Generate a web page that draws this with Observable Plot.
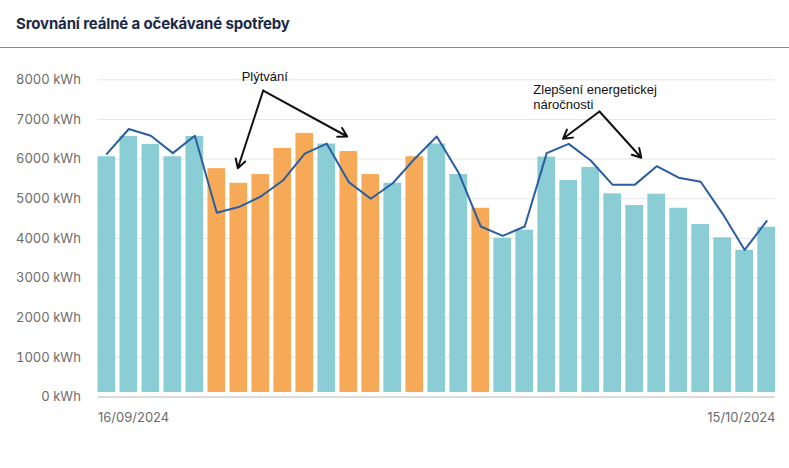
<!DOCTYPE html>
<html>
<head>
<meta charset="utf-8">
<script src="https://cdn.jsdelivr.net/npm/d3@7"></script>
<script src="https://cdn.jsdelivr.net/npm/@observablehq/plot@0.6"></script>
<style>
  html, body { margin: 0; padding: 0; background: #fff; }
  #head { height: 47px; border-bottom: 1px solid #8a8a8a; box-sizing: content-box; }
  #title { font-family: Inter, sans-serif; font-weight: 700; font-size: 15px; line-height: 18px;
           color: #1c2a48; padding: 15px 0 0 16px; letter-spacing: -0.15px; }
  #chart svg { display: block; }
</style>
</head>
<body>
<div id="head"><div id="title">Srovnání reálné a očekávané spotřeby</div></div>
<div id="chart"></div>
<script>
// Day index 1..31
const days = [1,2,3,4,5,6,7,8,9,10,11,12,13,14,15,16,17,18,19,20,21,22,23,24,25,26,27,28,29,30,31];
// Real consumption (kWh) – bars
const actual = [6060,6570,6370,6060,6570,5760,5390,5610,6270,6650,6380,6190,5610,5390,6060,6380,5610,4760,4005,4207,6050,5460,5790,5125,4830,5115,4760,4350,4015,3700,4280];
// Expected consumption (kWh) – line
const expected = [6130,6760,6590,6150,6590,4645,4790,5057,5460,6140,6390,5420,5000,5390,6010,6570,5650,4300,4065,4300,6150,6385,5965,5350,5350,5820,5530,5430,4620,3710,4435];
// Bar status: w = waste (orange), n = normal (teal)
const status = ["n","n","n","n","n","w","w","w","w","w","n","w","w","n","w","n","n","w","n","n","n","n","n","n","n","n","n","n","n","n","n"];
const yTicks = [0,1000,2000,3000,4000,5000,6000,7000,8000];
const startLabel = {x: 0.5, label: "16/09/2024"};
const endLabel = {x: 31.5, label: "15/10/2024"};
// Annotation arrows (from apex to tip), in data coordinates
const arrows = [
  {x1: 8.11, y1: 7730, x2: 6.955, y2: 5770},
  {x1: 8.11, y1: 7730, x2: 11.93, y2: 6570},
  {x1: 23.4, y1: 7200, x2: 21.74, y2: 6512},
  {x1: 23.4, y1: 7200, x2: 25.3, y2: 6033}
];
const noteWaste = {x: 8.18, y: 8083, text: "Plýtvání"};
const noteImprove = {x: 20.39, y: 7575, text: "Zlepšení energetickej\nnáročnosti"};

const data = days.map((d, i) => ({day: d, actual: actual[i], expected: expected[i], status: status[i]}));
const noteFont = "'Liberation Sans', Arial, sans-serif";

const chart = Plot.plot({
  width: 789,
  height: 420,
  marginLeft: 95.35,
  marginRight: 11.85,
  marginTop: 31.3,
  marginBottom: 71.5,
  style: {fontFamily: "Inter, sans-serif", fontSize: "13px", color: "#6b6b6b", background: "#fff"},
  x: {domain: [0.5, 31.5], axis: null},
  y: {domain: [0, 8000], axis: null},
  color: {domain: ["n", "w"], range: ["#8acdd5", "#f6aa57"]},
  marks: [
    Plot.ruleY(yTicks.filter(t => t > 0), {stroke: "#e6e6e6", strokeWidth: 1, insetLeft: 2.15, insetRight: 2.15}),
    Plot.rectY(data, {x1: d => d.day - 0.5, x2: d => d.day + 0.5, y1: 0, y2: "actual", fill: "status",
      insetLeft: 2.15, insetRight: 2.15, insetBottom: 4.5}),
    Plot.ruleY([0], {stroke: "#cfcfcf", strokeWidth: 1.5, insetLeft: 2.15, insetRight: 2.15}),
    Plot.line(data, {x: "day", y: "expected", stroke: "#2a5ea0", strokeWidth: 2}),
    Plot.arrow(arrows, {x1: "x1", y1: "y1", x2: "x2", y2: "y2", stroke: "#111", strokeWidth: 2, headLength: 7.5}),
    Plot.text([noteWaste], {x: "x", y: "y", text: "text", textAnchor: "middle", fill: "#111",
      fontFamily: noteFont, fontSize: 13}),
    Plot.text([noteImprove], {x: "x", y: "y", text: "text", textAnchor: "start", fill: "#111",
      fontFamily: noteFont, fontSize: 13, lineHeight: 1.2}),
    Plot.axisY(yTicks, {tickSize: 0, tickPadding: 15, tickFormat: d => d + " kWh", fill: "#6b6b6b", fontSize: 13}),
    Plot.text([startLabel], {x: "x", y: 0, text: "label", dy: 20.5, dx: 2.15,
      textAnchor: "start", fill: "#6b6b6b", fontSize: 13}),
    Plot.text([endLabel], {x: "x", y: 0, text: "label", dy: 20.5, dx: -2.15,
      textAnchor: "end", fill: "#6b6b6b", fontSize: 13})
  ]
});
document.getElementById("chart").appendChild(chart);
</script>
</body>
</html>
